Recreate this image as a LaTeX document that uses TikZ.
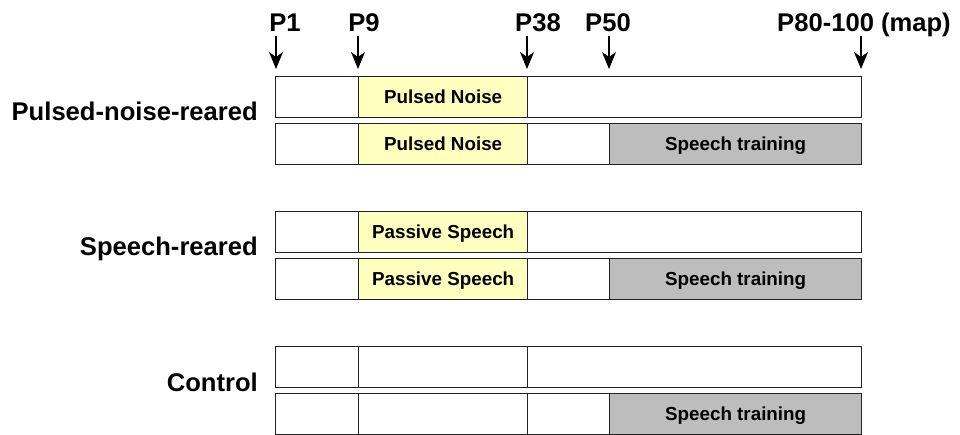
\documentclass[tikz,border=0pt]{standalone}
\usepackage{fontspec}
\setmainfont{Liberation Sans}
\usetikzlibrary{arrows.meta}
\definecolor{noisey}{HTML}{FFFFC0}
\definecolor{traing}{HTML}{BDBDBD}
\definecolor{edgec}{HTML}{222222}
\begin{document}
\begin{tikzpicture}[x=1pt,y=-1pt,
  cell/.style={draw=edgec,line width=1.3pt,fill=white,rectangle,inner sep=0pt,anchor=north west,minimum height=41pt,text height=13.5pt,text depth=0pt,font=\fontsize{18.8}{20}\selectfont\bfseries},
  yel/.style={cell,fill=noisey},
  gry/.style={cell,fill=traing},
  toplab/.style={anchor=base,inner sep=0pt,font=\fontsize{25.6}{28}\selectfont\bfseries},
  grouplab/.style={anchor=base east,inner sep=0pt,font=\fontsize{25.6}{28}\selectfont\bfseries},
  tick/.style={line width=1.2pt,-{Stealth[length=17pt,width=14pt,inset=5pt]}}]
\useasboundingbox (0,0) rectangle (960,435);
% top labels and arrows
\node[toplab] (p1) at (285,32) {P1};
\node[toplab] (p9) at (364,32) {P9};
\node[toplab] (p38) at (538,32) {P38};
\node[toplab] (p50) at (608,32) {P50};
\node[toplab] (p80) at (864,32) {P80-100 (map)};
\coordinate (a1s) at (276,36); \coordinate (a1e) at (276,69);
\coordinate (a9s) at (358,36); \coordinate (a9e) at (358,69);
\coordinate (a38s) at (527,36); \coordinate (a38e) at (527,69);
\coordinate (a50s) at (609,36); \coordinate (a50e) at (609,69);
\coordinate (a80s) at (861,36); \coordinate (a80e) at (861,69);
\draw[tick] (a1s) -- (a1e);
\draw[tick] (a9s) -- (a9e);
\draw[tick] (a38s) -- (a38e);
\draw[tick] (a50s) -- (a50e);
\draw[tick] (a80s) -- (a80e);
% group labels
\node[grouplab] (g1) at (258,121) {Pulsed-noise-reared};
\node[grouplab] (g2) at (258,256) {Speech-reared};
\node[grouplab] (g3) at (258,391) {Control};
% row 1
\node[cell,minimum width=83pt] (r1a) at (275,76) {};
\node[yel,minimum width=169pt] (r1b) at (358,76) {Pulsed Noise};
\node[cell,minimum width=334pt] (r1c) at (527,76) {};
% row 2
\node[cell,minimum width=83pt] (r2a) at (275,123) {};
\node[yel,minimum width=169pt] (r2b) at (358,123) {Pulsed Noise};
\node[cell,minimum width=82pt] (r2c) at (527,123) {};
\node[gry,minimum width=252pt] (r2d) at (609,123) {Speech training};
% row 3
\node[cell,minimum width=83pt] (r3a) at (275,211) {};
\node[yel,minimum width=169pt] (r3b) at (358,211) {Passive Speech};
\node[cell,minimum width=334pt] (r3c) at (527,211) {};
% row 4
\node[cell,minimum width=83pt] (r4a) at (275,258) {};
\node[yel,minimum width=169pt] (r4b) at (358,258) {Passive Speech};
\node[cell,minimum width=82pt] (r4c) at (527,258) {};
\node[gry,minimum width=252pt] (r4d) at (609,258) {Speech training};
% row 5
\node[cell,minimum width=83pt] (r5a) at (275,346) {};
\node[cell,minimum width=169pt] (r5b) at (358,346) {};
\node[cell,minimum width=334pt] (r5c) at (527,346) {};
% row 6
\node[cell,minimum width=83pt] (r6a) at (275,393) {};
\node[cell,minimum width=169pt] (r6b) at (358,393) {};
\node[cell,minimum width=82pt] (r6c) at (527,393) {};
\node[gry,minimum width=252pt] (r6d) at (609,393) {Speech training};
\end{tikzpicture}
\end{document}
